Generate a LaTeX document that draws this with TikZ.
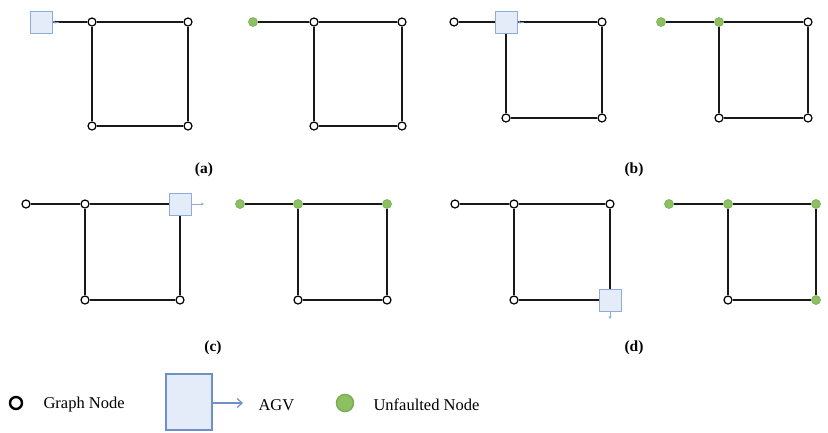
\documentclass[tikz,border=0pt]{standalone}
\usepackage{fontspec}
\setmainfont{Liberation Serif}
\usetikzlibrary{arrows.meta}
\definecolor{agvfill}{HTML}{E4ECFA}
\definecolor{agvline}{HTML}{8FAADC}
\definecolor{agvdark}{HTML}{6F8FC8}
\definecolor{okfill}{HTML}{8DC063}
\definecolor{okline}{HTML}{7AAE52}
\tikzset{
  gnode/.style={circle, draw=black, fill=white, line width=1.2pt, minimum size=8pt, inner sep=0pt},
  unode/.style={circle, draw=okline, fill=okfill, line width=0.6pt, minimum size=9pt, inner sep=0pt},
  agv/.style={rectangle, draw=agvline, fill=agvfill, line width=1pt, minimum size=22pt, inner sep=0pt},
  edge/.style={draw=black!90, line width=2pt},
  heading/.style={draw=agvdark, line width=0.8pt, -{Stealth[length=3pt,width=3pt]}},
  sublabel/.style={font=\fontsize{15.5}{18}\selectfont\bfseries},
  legtext/.style={font=\fontsize{16.5}{19}\selectfont, anchor=west}
}
\begin{document}
\begin{tikzpicture}[x=1pt, y=-1pt]
\useasboundingbox (0,0) rectangle (828,432);

% ---------- (a) left: AGV at the start node ----------
\node[gnode] (a2) at (92,22) {};
\node[gnode] (a3) at (188,22) {};
\node[gnode] (a4) at (92,126) {};
\node[gnode] (a5) at (188,126) {};
\node[agv] (aA) at (41,22) {};
\draw[edge] (aA) -- (a2);
\draw[edge] (a2) -- (a3) (a2) -- (a4) (a4) -- (a5) (a3) -- (a5);
\coordinate (aH) at (59,22);
\draw[heading] (aH) -- (aA.east);

% ---------- (a) right ----------
\node[unode] (ar1) at (253,22) {};
\node[gnode] (ar2) at (314,22) {};
\node[gnode] (ar3) at (402,22) {};
\node[gnode] (ar4) at (314,126) {};
\node[gnode] (ar5) at (402,126) {};
\draw[edge] (ar1) -- (ar2) (ar2) -- (ar3) (ar2) -- (ar4) (ar4) -- (ar5) (ar3) -- (ar5);
\node[sublabel] (la) at (204,170) {(a)};

% ---------- (b) left: AGV at the junction ----------
\node[gnode] (b1) at (454,22) {};
\node[gnode] (b3) at (602,22) {};
\node[gnode] (b4) at (506,118) {};
\node[gnode] (b5) at (602,118) {};
\node[agv] (bA) at (506,22) {};
\draw[edge] (b1) -- (bA) (bA) -- (b3) (bA) -- (b4) (b4) -- (b5) (b3) -- (b5);
\coordinate (bH) at (524,22);
\draw[heading] (bH) -- (bA.east);

% ---------- (b) right ----------
\node[unode] (br1) at (661,22) {};
\node[unode] (br2) at (719,22) {};
\node[gnode] (br3) at (808,22) {};
\node[gnode] (br4) at (719,118) {};
\node[gnode] (br5) at (808,118) {};
\draw[edge] (br1) -- (br2) (br2) -- (br3) (br2) -- (br4) (br4) -- (br5) (br3) -- (br5);
\node[sublabel] (lb) at (634,170) {(b)};

% ---------- (c) left: AGV at the top right corner ----------
\node[gnode] (c1) at (26,204) {};
\node[gnode] (c2) at (85,204) {};
\node[gnode] (c4) at (85,300) {};
\node[gnode] (c5) at (180,300) {};
\node[agv] (cA) at (180,204) {};
\draw[edge] (c1) -- (c2) (c2) -- (cA) (c2) -- (c4) (c4) -- (c5) (cA) -- (c5);
\coordinate (cH) at (204,204);
\draw[heading, draw=agvline] (cA.east) -- (cH);

% ---------- (c) right ----------
\node[unode] (cr1) at (240,204) {};
\node[unode] (cr2) at (298,204) {};
\node[unode] (cr3) at (387,204) {};
\node[gnode] (cr4) at (298,300) {};
\node[gnode] (cr5) at (387,300) {};
\draw[edge] (cr1) -- (cr2) (cr2) -- (cr3) (cr2) -- (cr4) (cr4) -- (cr5) (cr3) -- (cr5);
\node[sublabel] (lc) at (213,348) {(c)};

% ---------- (d) left: AGV at the bottom right corner ----------
\node[gnode] (d1) at (455,204) {};
\node[gnode] (d2) at (514,204) {};
\node[gnode] (d3) at (610,204) {};
\node[gnode] (d4) at (514,300) {};
\node[agv] (dA) at (610,300) {};
\draw[edge] (d1) -- (d2) (d2) -- (d3) (d2) -- (d4) (d4) -- (dA) (d3) -- (dA);
\coordinate (dH) at (610,319);
\draw[heading, draw=agvline] (dA.south) -- (dH);

% ---------- (d) right ----------
\node[unode] (dr1) at (669,204) {};
\node[unode] (dr2) at (728,204) {};
\node[unode] (dr3) at (816,204) {};
\node[gnode] (dr4) at (728,300) {};
\node[unode] (dr5) at (816,300) {};
\draw[edge] (dr1) -- (dr2) (dr2) -- (dr3) (dr2) -- (dr4) (dr4) -- (dr5) (dr3) -- (dr5);
\node[sublabel] (ld) at (634,348) {(d)};

% ---------- legend ----------
\node[circle, draw=black, fill=white, line width=2.4pt, minimum size=12pt, inner sep=0pt] (kG) at (16,403) {};
\node[legtext] (tG) at (40,405) {Graph Node};
\node[rectangle, draw=agvdark, fill=agvfill, line width=2.8pt, minimum width=46pt, minimum height=56pt, inner sep=0pt] (kA) at (189,402) {};
\coordinate (kAH) at (243,403);
\draw[draw=agvdark, line width=1.2pt, -{Straight Barb[length=5pt,width=9pt]}] (kA.east |- kAH) -- (kAH);
\node[legtext] (tA) at (255,405) {AGV};
\node[circle, draw=okline, fill=okfill, line width=1.5pt, minimum size=17pt, inner sep=0pt] (kU) at (345,403) {};
\node[legtext] (tU) at (370,405) {Unfaulted Node};
\end{tikzpicture}
\end{document}
